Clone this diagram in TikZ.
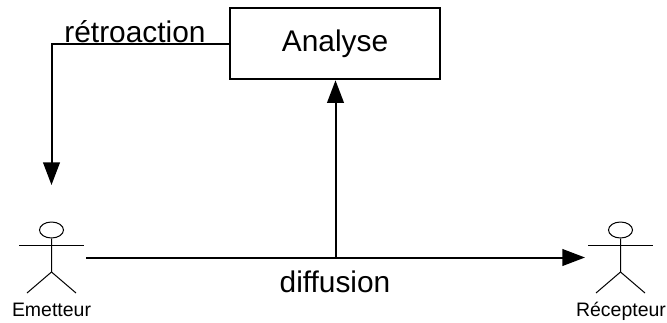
\documentclass[tikz,border=0pt]{standalone}
\usepackage{fontspec}
\setmainfont{Liberation Sans}
\usetikzlibrary{arrows.meta,shapes.geometric}
\tikzset{
  x=0.75pt,y=-0.75pt,
  conn/.style={line width=1.5pt,draw=black,-{Triangle[length=17pt,width=12.5pt]}},
  boxnode/.style={draw=black,line width=1.4pt,minimum width=157.5pt,minimum height=53.5pt,inner sep=0pt,font=\fontsize{22.4}{24}\selectfont},
  biglabel/.style={inner sep=0pt,font=\fontsize{22.4}{24}\selectfont,anchor=base},
  smalllabel/.style={inner sep=0pt,font=\fontsize{14.6}{16}\selectfont,anchor=base},
  actorline/.style={line width=0.75pt,draw=black}
}
\newcommand{\actorfig}[2]{%
  \begin{scope}[shift={(#1,0)}]
    \node[draw=black,line width=0.75pt,ellipse,minimum width=18pt,minimum height=12pt,inner sep=0pt] (#2) at (0,230) {};
    \draw[actorline] (#2.south) -- (0,272) -- (-24.5,293);
    \draw[actorline] (0,272) -- (24.5,293);
    \draw[actorline] (-32.5,245.5) -- (32.5,245.5);
  \end{scope}}
\begin{document}
\begin{tikzpicture}
\useasboundingbox (0,0) rectangle (667,322);
\actorfig{51.5}{headem}
\actorfig{620.5}{headrec}
\node[boxnode] (analyse) at (335,43.7) {\raisebox{-1pt}{Analyse}};
\coordinate (fbturn) at (51.5,44);
\coordinate (fbend) at (51.5,185);
\coordinate (dstart) at (86,257.5);
\coordinate (dend) at (585,257.5);
\coordinate (dmid) at (335.5,257.5);
\draw[conn] (analyse.west |- fbturn) -- (fbturn) -- (fbend);
\draw[conn] (dstart) -- (dend);
\draw[conn] (dmid) -- (dmid |- analyse.south);
\node[biglabel] (retro) at (135,42.5) {rétroaction};
\node[biglabel] (diff) at (335,292) {diffusion};
\node[smalllabel] (em) at (51.5,316) {Emetteur};
\node[smalllabel] (rec) at (621,316) {Récepteur};
\end{tikzpicture}
\end{document}
